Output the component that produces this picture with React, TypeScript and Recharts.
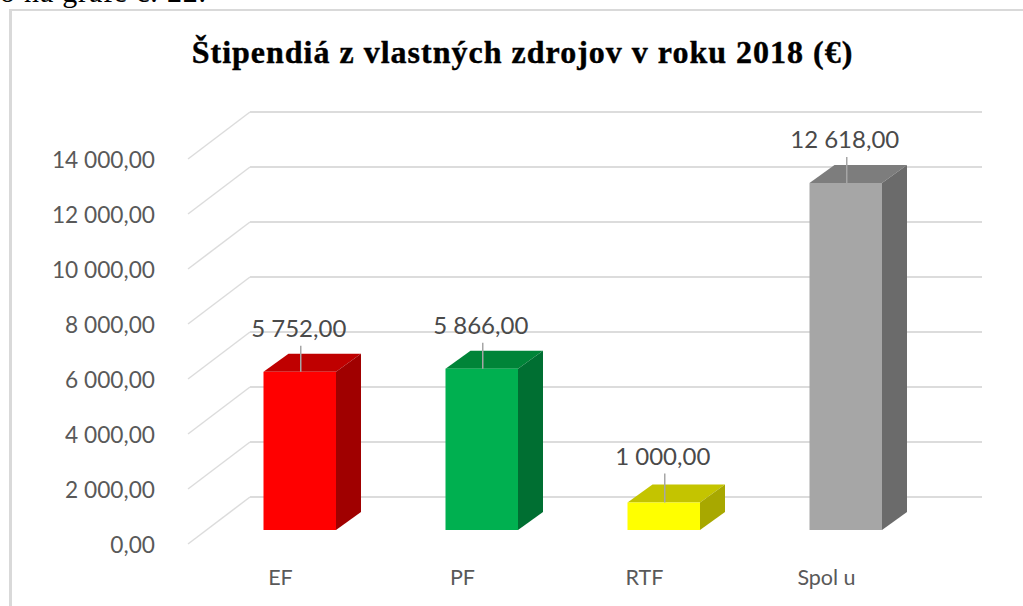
import { BarChart, Bar, XAxis, YAxis, CartesianGrid, LabelList } from 'recharts';

const categories = ['EF', 'PF', 'RTF', 'Spol u'];
const values = [5752, 5866, 1000, 12618];
const valueTicks = [0, 2000, 4000, 6000, 8000, 10000, 12000, 14000];

const frontColors = ['#ff0000', '#00b050', '#ffff00', '#a6a6a6'];
const topColors = ['#bf0000', '#008438', '#c4c400', '#7d7d7d'];
const sideColors = ['#a00000', '#006f32', '#a8a800', '#6b6b6b'];

const data = categories.map((name, i) => ({ name, value: values[i], idx: i }));

// 3D look: how far the back of a bar and the chart walls are shifted
const DEPTH_X = 25;
const DEPTH_Y = 18;

const fmt = (v: number) =>
  v.toFixed(2).replace('.', ',').replace(/\B(?=(\d{3})(?!\d))/g, '\u00a0');

const GridLine = (props: any) => (
  <g fill="none" stroke="#dcdcdc">
    <line x1={188} y1={props.y1 + 14} x2={250} y2={props.y1 - 33} strokeWidth={1.5} />
    <line x1={250} y1={props.y1 - 33} x2={982} y2={props.y1 - 33} strokeWidth={2} />
  </g>
);

const Bar3D = (props: any) => {
  const { x, y, width, height, idx } = props;
  const r = x + width;
  const b = y + height;
  return (
    <g>
      <polygon
        points={`${x},${y} ${x + DEPTH_X},${y - DEPTH_Y} ${r + DEPTH_X},${y - DEPTH_Y} ${r},${y}`}
        fill={topColors[idx]}
      />
      <polygon
        points={`${r},${y} ${r + DEPTH_X},${y - DEPTH_Y} ${r + DEPTH_X},${b - DEPTH_Y} ${r},${b}`}
        fill={sideColors[idx]}
      />
      <rect x={x} y={y} width={width} height={height} fill={frontColors[idx]} />
    </g>
  );
};

const ValueLabel = (props: any) => {
  const { x, y, width, value } = props;
  const cx = x + width / 2;
  // the small RTF bar has its label pulled a little higher
  const lift = value < 2000 ? 3 : 0;
  return (
    <g>
      <line x1={cx + 1} y1={y} x2={cx + 1} y2={y - 26 - lift} stroke="#a6a6a6" strokeWidth={1.5} />
      <text x={cx - 1} y={y - 35 - lift} textAnchor="middle" fontFamily="Lato" fontSize={24} fill="#4a4a4a">
        {fmt(value)}
      </text>
    </g>
  );
};

const YTick = (props: any) => (
  <text x={155} y={props.y + 23} textAnchor="end" fontFamily="Lato" fontSize={22.7} fill="#595959">
    {fmt(props.payload.value)}
  </text>
);

const XTick = (props: any) => (
  <text x={props.x - 19} y={props.y + 47} textAnchor="middle" fontFamily="Lato" fontSize={21.5} fill="#595959">
    {props.payload.value}
  </text>
);

export default function App() {
  return (
    <div style={{ position: 'absolute', left: 0, top: 0, width: 1023, height: 606, background: '#fff', overflow: 'hidden' }}>
      <div style={{ position: 'absolute', left: 0, top: -25, whiteSpace: 'nowrap', fontFamily: 'Liberation Serif', fontSize: 30, letterSpacing: 0.8, color: '#000' }}>
        o na grafe č. 22.
      </div>
      <div style={{ position: 'absolute', left: 9, top: 9, width: 1030, height: 597, borderLeft: '3px solid #d9d9d9', borderTop: '2px solid #d9d9d9', boxSizing: 'border-box' }} />
      <div style={{ position: 'absolute', left: 0, top: 34, width: 1045, textAlign: 'center', whiteSpace: 'nowrap', fontFamily: 'Liberation Serif', fontWeight: 700, fontSize: 32, letterSpacing: 1, WebkitTextStroke: '0.4px #000', color: '#000' }}>
        Štipendiá z vlastných zdrojov v roku 2018 (€)
      </div>
      <div style={{ position: 'absolute', left: 0, top: 0 }}>
        <BarChart
          width={1023}
          height={606}
          data={data}
          barSize={72.5}
          margin={{ top: 145, right: 86.5, bottom: 46, left: 148.5 }}
        >
          <CartesianGrid vertical={false} horizontal={GridLine} />
          <XAxis dataKey="name" height={30} axisLine={false} tickLine={false} tick={XTick} interval={0} />
          <YAxis width={60} domain={[0, 14000]} ticks={valueTicks} axisLine={false} tickLine={false} tick={YTick} />
          <Bar dataKey="value" shape={Bar3D} isAnimationActive={false}>
            <LabelList dataKey="value" content={ValueLabel} />
          </Bar>
        </BarChart>
      </div>
    </div>
  );
}
